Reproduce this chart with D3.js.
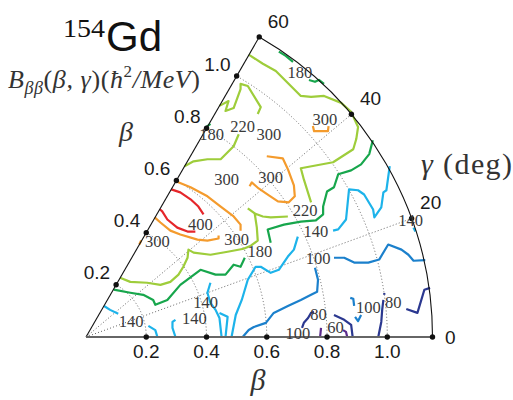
<!DOCTYPE html>
<html>
<head>
<meta charset="utf-8">
<script src="https://cdn.jsdelivr.net/npm/d3@7/dist/d3.min.js"></script>
<style>
html,body{margin:0;padding:0;background:#fff;}
svg{display:block;}
</style>
</head>
<body>
<svg id="chart" width="513" height="400"></svg>
<script>
// ================= DATA =================
const betaTicks = [0.2, 0.4, 0.6, 0.8, 1.0];
const betaTickLabels = ["0.2", "0.4", "0.6", "0.8", "1.0"];
const gammaTicks = [0, 20, 40, 60];
const gammaTickLabels = ["0", "20", "40", "60"];
const betaMax = 1.15;
const levels = [60, 80, 100, 140, 180, 220, 300, 400];

// contour lines of B_bb, each point is [β·cosγ, β·sinγ]
const c400 = [
  [[0.283,0.490],[0.313,0.480],[0.347,0.457],[0.373,0.433],[0.390,0.407]],
  [[0.245,0.424],[0.253,0.417],[0.270,0.390],[0.303,0.363],[0.337,0.350],[0.363,0.350]]
];
const c300 = [
  [[0.298,0.517],[0.347,0.497],[0.403,0.467],[0.447,0.433],[0.490,0.400],[0.513,0.373],[0.513,0.353]],
  [[0.228,0.397],[0.247,0.380],[0.280,0.353],[0.313,0.340],[0.370,0.323],[0.403,0.320],[0.440,0.327],[0.440,0.337]],
  [[0.600,0.600],[0.653,0.593],[0.670,0.557],[0.690,0.503],[0.693,0.467],[0.673,0.447],[0.637,0.450],[0.607,0.470],[0.573,0.493],[0.550,0.513],[0.543,0.500]],
  [[0.753,0.700],[0.757,0.683],[0.803,0.683],[0.805,0.700]],
  [[0.177,0.307],[0.183,0.320]]
];
const c220 = [
  [[0.113,0.197],[0.147,0.183],[0.203,0.180],[0.247,0.173],[0.280,0.183],[0.307,0.207],[0.323,0.233],[0.337,0.263],[0.340,0.290],[0.357,0.280],[0.413,0.273],[0.470,0.283],[0.523,0.293],[0.547,0.303],[0.570,0.320],[0.567,0.363],[0.560,0.410],[0.587,0.400],[0.613,0.397],[0.670,0.400]],
  [[0.747,0.447],[0.723,0.523],[0.713,0.560],[0.820,0.580],[0.887,0.623],[0.897,0.657],[0.903,0.697],[0.880,0.747],[0.847,0.777],[0.790,0.800],[0.747,0.797],[0.713,0.800],[0.630,0.883],[0.587,0.907],[0.540,0.937]],
  [[0.537,0.427],[0.560,0.410]],
  [[0.443,0.767],[0.473,0.783],[0.463,0.750],[0.490,0.760],[0.513,0.823],[0.513,0.840],[0.537,0.833],[0.580,0.763],[0.570,0.740]],
  [[0.507,0.673],[0.490,0.633],[0.447,0.590],[0.403,0.590],[0.357,0.583],[0.327,0.567]]
];
const c180 = [
  [[0.640,0.947],[0.663,0.933],[0.687,0.913]],
  [[0.740,0.853],[0.760,0.847],[0.773,0.853],[0.790,0.840]],
  [[0.400,0.697],[0.413,0.707]],
  [[0.092,0.157],[0.147,0.147],[0.190,0.140],[0.223,0.123],[0.230,0.107],[0.270,0.123],[0.313,0.173],[0.380,0.223],[0.430,0.207],[0.463,0.207],[0.490,0.240],[0.513,0.233],[0.527,0.263]],
  [[0.613,0.313],[0.603,0.357],[0.657,0.373],[0.713,0.383],[0.763,0.387],[0.787,0.407],[0.787,0.433],[0.800,0.483],[0.823,0.497],[0.837,0.540],[0.880,0.553],[0.913,0.573],[0.940,0.607],[0.952,0.653]]
];
const c140 = [
  [[0.060,0.103],[0.080,0.090],[0.107,0.077]],
  [[0.207,0.037],[0.230,0.023],[0.237,0.000]],
  [[0.297,0.057],[0.287,0.050],[0.287,0.030],[0.297,0.000]],
  [[0.413,0.180],[0.403,0.147],[0.413,0.113],[0.430,0.090],[0.443,0.063],[0.450,0.000]],
  [[0.443,0.080],[0.470,0.067],[0.463,0.000]],
  [[0.703,0.333],[0.690,0.290],[0.670,0.267],[0.640,0.223],[0.613,0.213],[0.580,0.233],[0.563,0.233],[0.537,0.190],[0.517,0.123],[0.497,0.073],[0.483,0.000]],
  [[0.820,0.353],[0.837,0.357],[0.863,0.390],[0.873,0.490],[0.903,0.487],[0.923,0.473],[0.953,0.423],[0.957,0.397],[0.980,0.430],[0.987,0.480],[0.997,0.487],[1.008,0.567]],
  [[1.087,0.363],[1.093,0.350]]
];
const c100 = [
  [[0.520,0.000],[0.540,0.023],[0.557,0.033],[0.597,0.047],[0.623,0.080],[0.670,0.103],[0.713,0.123],[0.747,0.140],[0.767,0.150],[0.770,0.190],[0.760,0.230]],
  [[0.823,0.263],[0.857,0.263],[0.890,0.247],[0.937,0.247],[0.973,0.257],[1.003,0.307],[1.047,0.290],[1.070,0.273],[1.087,0.253],[1.126,0.255]],
  [[0.877,0.130],[0.887,0.127],[0.890,0.103]],
  [[0.893,0.067],[0.903,0.053],[0.913,0.073]]
];
const c80 = [
  [[0.717,0.030],[0.723,0.047],[0.737,0.063],[0.747,0.080],[0.757,0.083]],
  [[0.823,0.073],[0.857,0.057],[0.880,0.040],[0.885,0.000]],
  [[0.970,0.000],[0.980,0.050],[0.983,0.090],[0.987,0.123]],
  [[0.990,0.140],[0.990,0.146]],
  [[1.063,0.093],[1.100,0.080],[1.123,0.157],[1.142,0.163]]
];
const c60 = [
  [[0.777,0.000],[0.780,0.030]],
  [[0.853,0.023],[0.863,0.017],[0.867,0.000]]
];
// contour labels: [value, β·cosγ, β·sinγ]
const contourLabels = [
  [180,0.710,0.877],[300,0.793,0.723],[180,0.417,0.673],[220,0.520,0.697],
  [300,0.607,0.673],[300,0.467,0.523],[300,0.613,0.530],[400,0.380,0.373],
  [300,0.500,0.323],[300,0.237,0.317],[180,0.577,0.283],[220,0.727,0.420],
  [140,0.763,0.350],[100,0.770,0.260],[140,1.077,0.387],[140,0.397,0.113],
  [140,0.360,0.060],[140,0.150,0.053],[100,0.937,0.097],[80,1.020,0.113],
  [80,0.772,0.074],[60,0.828,0.030],[100,0.703,0.010]
];
const contourSets = [
  {level: 400, lines: c400}, {level: 300, lines: c300}, {level: 220, lines: c220},
  {level: 180, lines: c180}, {level: 140, lines: c140}, {level: 100, lines: c100},
  {level: 80, lines: c80}, {level: 60, lines: c60}
];

// ================= STYLE / LAYOUT =================
const levelColor = d3.scaleOrdinal()
  .domain(levels)
  .range(["#5b2b8c", "#2b3890", "#1b80cc", "#1db3ea", "#17a64c", "#9ecd3b", "#f49b2d", "#e5262a"]);

const svg = d3.select("#chart");
const ox = 86, oy = 337, R = 346.5;
const sx = d3.scaleLinear().domain([0, betaMax]).range([ox, ox + R]);
const sy = d3.scaleLinear().domain([0, betaMax]).range([oy, oy - R]);
const rad = d => d * Math.PI / 180;
const px = (b, g) => sx(b * Math.cos(rad(g)));
const py = (b, g) => sy(b * Math.sin(rad(g)));

const serif = "'Liberation Serif','Times New Roman',serif";
const sans = "'Liberation Sans',Arial,Helvetica,sans-serif";

// dotted grid: arcs and radial lines
const grid = svg.append("g").attr("fill", "none").attr("stroke", "#555")
  .attr("stroke-width", 0.9).attr("stroke-dasharray", "1,2.2");
betaTicks.forEach(b => {
  const r = sx(b) - sx(0);
  const p = d3.path();
  p.moveTo(ox + r, oy);
  p.arc(ox, oy, r, 0, -Math.PI / 3, true);
  grid.append("path").attr("d", p.toString());
});
[20, 40].forEach(g => {
  grid.append("line").attr("x1", ox).attr("y1", oy)
    .attr("x2", px(betaMax, g)).attr("y2", py(betaMax, g));
});

// contour lines
const line = d3.line().x(d => sx(d[0])).y(d => sy(d[1]));
const cg = svg.append("g").attr("fill", "none").attr("stroke-width", 2.2)
  .attr("stroke-linejoin", "round").attr("stroke-linecap", "butt");
contourSets.forEach(s => {
  s.lines.forEach(l => {
    cg.append("path").attr("d", line(l)).attr("stroke", levelColor(s.level));
  });
});

// frame
const outer = d3.path();
outer.moveTo(ox + R, oy);
outer.arc(ox, oy, R, 0, -Math.PI / 3, true);
svg.append("path").attr("d", outer.toString()).attr("fill", "none")
  .attr("stroke", "#111").attr("stroke-width", 1.1);
svg.append("line").attr("x1", ox).attr("y1", oy).attr("x2", px(betaMax, 60)).attr("y2", py(betaMax, 60))
  .attr("stroke", "#111").attr("stroke-width", 1.1);
svg.append("line").attr("x1", ox).attr("y1", oy).attr("x2", px(betaMax, 0)).attr("y2", py(betaMax, 0))
  .attr("stroke", "#666").attr("stroke-width", 1.8);

// tick dots
const dots = svg.append("g").attr("fill", "#111");
betaTicks.forEach(b => {
  dots.append("circle").attr("cx", px(b, 0)).attr("cy", py(b, 0)).attr("r", 2.7);
  dots.append("circle").attr("cx", px(b, 60)).attr("cy", py(b, 60)).attr("r", 2.7);
});
gammaTicks.forEach(g => {
  dots.append("circle").attr("cx", px(betaMax, g)).attr("cy", py(betaMax, g)).attr("r", 2.7);
});

// tick labels
const tl = svg.append("g").attr("font-family", sans).attr("font-size", 19).attr("fill", "#1a1a1a");
betaTicks.forEach((b, i) => {
  tl.append("text").attr("x", px(b, 0)).attr("y", 358).attr("text-anchor", "middle").text(betaTickLabels[i]);
  tl.append("text").attr("x", px(b, 60) - 6).attr("y", py(b, 60) - 5.5).attr("text-anchor", "end").text(betaTickLabels[i]);
});
gammaTicks.forEach((g, i) => {
  const x = px(betaMax, g), y = py(betaMax, g);
  if (g === 0) {
    tl.append("text").attr("x", x + 12.5).attr("y", y + 6.5).text(gammaTickLabels[i]);
  } else {
    tl.append("text").attr("x", x + 8.5).attr("y", y - 9.3).text(gammaTickLabels[i]);
  }
});

// contour labels
const lab = svg.append("g").attr("font-family", serif).attr("font-size", 16.5)
  .attr("fill", "#3a3a3a").attr("text-anchor", "middle");
contourLabels.forEach(d => {
  lab.append("text").attr("x", sx(d[1])).attr("y", sy(d[2]) + 5.5).text(d[0]);
});

// axis titles
svg.append("text").attr("x", 258).attr("y", 390).attr("font-family", serif).attr("font-style", "italic")
  .attr("font-size", 30).attr("text-anchor", "middle").attr("fill", "#333").text("β");
svg.append("text").attr("x", 126).attr("y", 141).attr("font-family", serif).attr("font-style", "italic")
  .attr("font-size", 28).attr("text-anchor", "middle").attr("fill", "#333").text("β");
const gt = svg.append("text").attr("x", 421).attr("y", 174).attr("font-family", serif)
  .attr("font-size", 30).attr("fill", "#333").attr("textLength", 91).attr("lengthAdjust", "spacing");
gt.append("tspan").attr("font-style", "italic").text("γ");
gt.append("tspan").text(" (deg)");

// title
const tt = svg.append("text").attr("x", 63).attr("y", 51).attr("fill", "#111");
tt.append("tspan").attr("font-family", serif).attr("font-size", 26).attr("dy", -14)
  .attr("textLength", 42).attr("lengthAdjust", "spacingAndGlyphs").text("154");
tt.append("tspan").attr("font-family", sans).attr("font-size", 42).attr("dy", 14).attr("dx", 1).text("Gd");

// subtitle
const st = svg.append("text").attr("x", 8).attr("y", 88).attr("font-family", serif)
  .attr("font-size", 26).attr("fill", "#333").attr("textLength", 192).attr("lengthAdjust", "spacing");
st.append("tspan").attr("font-style", "italic").text("B");
st.append("tspan").attr("font-style", "italic").attr("font-size", 18).attr("dy", 6).text("ββ");
st.append("tspan").attr("dy", -6).text("(");
st.append("tspan").attr("font-style", "italic").text("β, γ");
st.append("tspan").text(")(");
st.append("tspan").attr("font-style", "italic").text("ħ");
st.append("tspan").attr("font-size", 17).attr("dy", -11).text("2");
st.append("tspan").attr("dy", 11).attr("font-style", "italic").text("/MeV");
st.append("tspan").text(")");
</script>
</body>
</html>
